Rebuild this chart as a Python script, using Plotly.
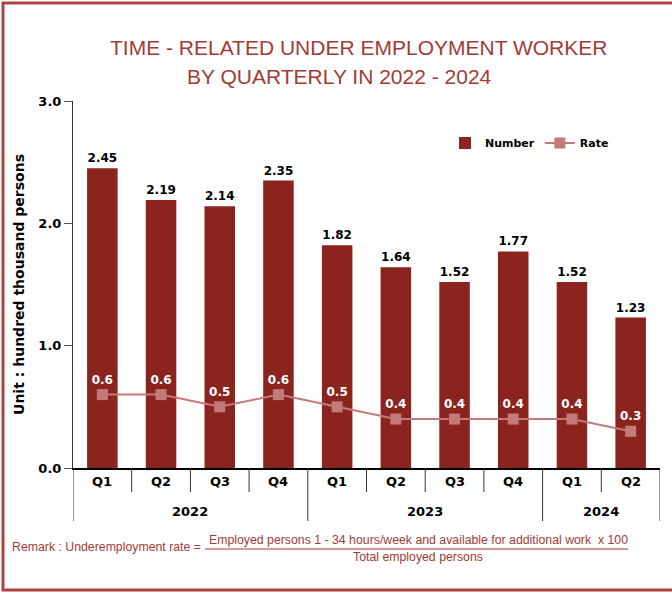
import plotly.graph_objects as go

colors = {
    'bar': '#8b241e',
    'rate': '#c47a78',
    'title': '#a33b35',
    'border': '#a94440',
    'black': '#000000',
    'white': '#ffffff',
}

years = ['2022', '2022', '2022', '2022', '2023', '2023', '2023', '2023', '2024', '2024']
quarters = ['Q1', 'Q2', 'Q3', 'Q4', 'Q1', 'Q2', 'Q3', 'Q4', 'Q1', 'Q2']
number = [2.45, 2.19, 2.14, 2.35, 1.82, 1.64, 1.52, 1.77, 1.52, 1.23]
rate = [0.6, 0.6, 0.5, 0.6, 0.5, 0.4, 0.4, 0.4, 0.4, 0.3]

W, H = 672, 593
M = dict(l=73, r=12, t=101, b=125)


def px(x):
    return (x - M['l']) / (W - M['l'] - M['r'])


def py(y):
    return (H - M['b'] - y) / (H - M['t'] - M['b'])


pos = list(range(len(quarters)))
lab_font = dict(family='DejaVu Sans', size=13, color=colors['black'], weight='bold')

bar_trace = go.Bar(
    x=pos,
    y=number,
    name='Number',
    marker=dict(color=colors['bar'], line=dict(width=0)),
    width=0.52,
    text=['{:.2f}'.format(v) for v in number],
    textposition='outside',
    cliponaxis=False,
    textfont=dict(family='DejaVu Sans', size=12, color=colors['black'], weight='bold'),
)

rate_trace = go.Scatter(
    x=pos,
    y=rate,
    name='Rate',
    mode='lines+markers+text',
    line=dict(color=colors['rate'], width=2),
    marker=dict(color=colors['rate'], symbol='square', size=11),
    text=['{:.1f}'.format(v) for v in rate],
    textposition='top center',
    textfont=dict(family='DejaVu Sans', size=12, color=colors['white'], weight='bold'),
)

fig = go.Figure(data=[bar_trace, rate_trace])

fig.update_layout(
    width=W, height=H,
    margin=M,
    paper_bgcolor=colors['white'],
    plot_bgcolor=colors['white'],
    legend=dict(
        orientation='h', x=px(614), y=py(143), xanchor='right', yanchor='middle',
        font=dict(family='DejaVu Sans', size=11, color=colors['black'], weight='bold'),
        itemwidth=30, bgcolor='rgba(0,0,0,0)', tracegroupgap=0,
    ),
    xaxis=dict(
        range=[-0.5, len(pos) - 0.5],
        showline=True, linecolor=colors['black'], linewidth=1.5,
        showticklabels=False, ticks='',
        showgrid=False, zeroline=False, automargin=False,
    ),
    yaxis=dict(
        range=[0, 3], dtick=1, tickformat='.1f',
        showline=True, linecolor='#333333', linewidth=1,
        ticks='outside', ticklen=8, tickcolor='#555555',
        showgrid=False, zeroline=False, automargin=False,
        tickfont=lab_font,
        title=dict(
            text='Unit : hundred thousand persons', standoff=10,
            font=dict(family='DejaVu Sans', size=14, color=colors['black'], weight='bold'),
        ),
    ),
)


def note(text, x, y, font, xanchor='center'):
    fig.add_annotation(text=text, xref='paper', yref='paper', x=px(x), y=py(y),
                       xanchor=xanchor, yanchor='middle', showarrow=False, font=font)


# quarter labels and the short ticks between quarters
for i, q in enumerate(quarters):
    fig.add_annotation(text=q, x=i, xref='x', y=py(481), yref='paper',
                       xanchor='center', yanchor='middle', showarrow=False, font=lab_font)
    if i > 0 and years[i] == years[i - 1]:
        fig.add_shape(type='line', xref='x', yref='paper', x0=i - 0.5, x1=i - 0.5,
                      y0=0, y1=py(492), line=dict(color='#333333', width=1))

# year labels and the long dividers between years
starts = [i for i in pos if i == 0 or years[i] != years[i - 1]]
ends = starts[1:] + [len(pos)]
for s, e in zip(starts, ends):
    fig.add_annotation(text=years[s], x=(s + e - 1) / 2, xref='x', y=py(511), yref='paper',
                       xanchor='center', yanchor='middle', showarrow=False, font=lab_font)
    fig.add_shape(type='line', xref='x', yref='paper', x0=s - 0.5, x1=s - 0.5,
                  y0=0, y1=py(521), line=dict(color='#333333', width=1))
fig.add_shape(type='line', xref='x', yref='paper', x0=len(pos) - 0.5, x1=len(pos) - 0.5,
              y0=0, y1=py(521), line=dict(color='#333333', width=1))

title_font = dict(family='Liberation Sans', size=21, color=colors['title'])
note('TIME - RELATED UNDER EMPLOYMENT WORKER', 358, 48, title_font)
note('BY QUARTERLY IN 2022 - 2024', 339, 77, title_font)

remark_font = dict(family='Liberation Sans', size=12.3, color=colors['title'])
note('Remark : Underemployment rate =', 10, 547, remark_font, xanchor='left')
note('Employed persons 1 - 34 hours/week and available for additional work  x 100', 418, 540, remark_font)
note('Total employed persons', 418, 557, remark_font)
fig.add_shape(type='line', xref='paper', yref='paper', x0=px(205), x1=px(628), y0=py(549), y1=py(549),
              line=dict(color=colors['title'], width=1))

# outer frame, open on the right like the reference crop
fig.add_shape(type='rect', xref='paper', yref='paper', x0=px(3), x1=px(690), y0=py(590), y1=py(3),
              line=dict(color=colors['border'], width=3), layer='below')

fig.write_html('out.html', config={'displayModeBar': False},
               post_script="document.body.style.margin='0';document.body.style.overflow='hidden';")
